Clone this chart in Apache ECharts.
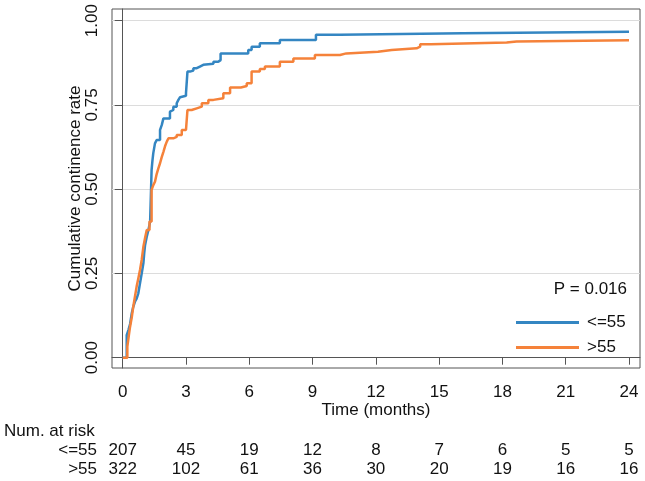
<!DOCTYPE html>
<html>
<head>
<meta charset="utf-8">
<script src="https://cdn.jsdelivr.net/npm/echarts@6.0.0/dist/echarts.min.js"></script>
<style>
  html, body { margin: 0; padding: 0; background: #fff; }
  #chart { width: 645px; height: 481px; }
</style>
</head>
<body>
<div id="chart"></div>
<script>
// tick labels
const timeTicks = [0, 3, 6, 9, 12, 15, 18, 21, 24]
const rateTicks = [0, 0.25, 0.5, 0.75, 1]
// number at risk, one per time tick
const riskLow = [207, 45, 19, 12, 8, 7, 6, 5, 5]
const riskHigh = [322, 102, 61, 36, 30, 20, 19, 16, 16]
const groupNames = ["<=55", ">55"]
// KM steps [months, rate]
const lowCurve = [
  [0, 0], [0.19, 0.067], [0.27, 0.082], [0.35, 0.1], [0.43, 0.132], [0.5, 0.151],
  [0.58, 0.166], [0.66, 0.175], [0.74, 0.191], [0.82, 0.221], [0.9, 0.25], [0.98, 0.28],
  [1.02, 0.31], [1.06, 0.334], [1.14, 0.359], [1.22, 0.379], [1.3, 0.404], [1.37, 0.557],
  [1.41, 0.585], [1.45, 0.607], [1.53, 0.636], [1.61, 0.646], [1.77, 0.676], [1.85, 0.69],
  [1.93, 0.71], [2.24, 0.73], [2.32, 0.735], [2.4, 0.745], [2.56, 0.755], [2.64, 0.765],
  [2.72, 0.773], [2.8, 0.777], [3.0, 0.785], [3.07, 0.849], [3.19, 0.852], [3.35, 0.859],
  [3.51, 0.864], [3.66, 0.869], [3.82, 0.872], [4.3, 0.878], [4.53, 0.883], [4.64, 0.903],
  [5.95, 0.913], [6.11, 0.923], [6.5, 0.933], [7.45, 0.943], [9.16, 0.958], [10.3, 0.963],
  [16.1, 0.967], [24, 0.967]
]
const highCurve = [
  [0, 0], [0.22, 0.033], [0.3, 0.07], [0.35, 0.092], [0.43, 0.12], [0.5, 0.151],
  [0.58, 0.181], [0.66, 0.211], [0.74, 0.235], [0.82, 0.26], [0.9, 0.29], [0.98, 0.329],
  [1.06, 0.355], [1.14, 0.379], [1.27, 0.404], [1.37, 0.498], [1.45, 0.512], [1.53, 0.522],
  [1.61, 0.545], [1.69, 0.562], [1.77, 0.577], [1.85, 0.595], [1.93, 0.611], [2.01, 0.628],
  [2.09, 0.641], [2.17, 0.651], [2.4, 0.655], [2.56, 0.661], [2.8, 0.676], [3.0, 0.681],
  [3.07, 0.735], [3.27, 0.74], [3.51, 0.745], [3.75, 0.755], [4.06, 0.765], [4.3, 0.77],
  [4.77, 0.785], [5.09, 0.802], [5.6, 0.806], [5.88, 0.814], [6.11, 0.849], [6.5, 0.857],
  [6.74, 0.864], [7.45, 0.878], [8.09, 0.888], [9.11, 0.898], [10.3, 0.903], [10.6, 0.908],
  [12.1, 0.913], [12.75, 0.918], [13.93, 0.923], [14.1, 0.93], [14.6, 0.935], [18.2, 0.938],
  [18.67, 0.942], [24, 0.942]
]
const pText = "P = 0.016"

const font = '"Liberation Sans", Arial, sans-serif'
const ink = "#111"
const frame = "#555"

// x axis padding like stata's plot region margin
const xMin = -0.507, xMax = 24.52
const yMin = -0.0306, yMax = 1.0347

function riskAxis(values, offset) {
  return {
    type: "value", min: xMin, max: xMax, gridIndex: 0, position: "bottom", offset: offset,
    axisLine: { show: false }, axisTick: { show: false }, splitLine: { show: false },
    axisLabel: {
      customValues: timeTicks, margin: 0, color: ink, fontSize: 17, fontFamily: font,
      formatter: (v) => String(values[Math.round(v / 3)])
    }
  }
}

let myChart = echarts.init(document.getElementById("chart"), null, { renderer: "canvas" })
myChart.setOption({
  animation: false,
  grid: { left: 112, right: 5, top: 9, bottom: 113, show: true, borderColor: frame, borderWidth: 1, outerBoundsMode: "none" },
  legend: {
    orient: "vertical", left: 511, top: 309, itemWidth: 63, itemHeight: 3, icon: "rect", itemGap: 8,
    selectedMode: false, data: groupNames,
    textStyle: { fontSize: 17, color: ink, fontFamily: font, padding: [0, 0, 0, 3] }
  },
  xAxis: [
    {
      type: "value", min: xMin, max: xMax,
      name: "Time (months)", nameLocation: "middle", nameGap: 34, nameMoveOverlap: false,
      nameTextStyle: { fontSize: 17, color: ink, fontFamily: font },
      axisLine: { show: true, lineStyle: { color: frame, width: 1 } },
      axisTick: { show: true, customValues: timeTicks, length: 7, lineStyle: { color: frame } },
      axisLabel: { customValues: timeTicks, margin: 15.5, color: ink, fontSize: 17, fontFamily: font },
      splitLine: { show: false }
    },
    riskAxis(riskLow, 73.5),
    riskAxis(riskHigh, 92.5)
  ],
  yAxis: {
    type: "value", min: yMin, max: yMax,
    name: "Cumulative continence rate", nameLocation: "middle", nameGap: 28.5, nameRotate: 90,
    nameMoveOverlap: false,
    nameTextStyle: { fontSize: 17, color: ink, fontFamily: font },
    axisLine: { show: true, lineStyle: { color: frame, width: 1 } },
    axisTick: { show: true, customValues: rateTicks, length: 8, lineStyle: { color: frame } },
    axisLabel: {
      customValues: rateTicks, rotate: 90, margin: 11, color: ink, fontSize: 17, fontFamily: font,
      formatter: (v) => v.toFixed(2)
    },
    splitLine: { show: true, lineStyle: { color: "#dcdcdc", width: 1 } }
  },
  series: [
    {
      name: groupNames[0], type: "line", step: "end", data: lowCurve,
      showSymbol: false, color: "#3486c2", lineStyle: { width: 2.5 }
    },
    {
      name: groupNames[1], type: "line", step: "end", data: highCurve,
      showSymbol: false, color: "#f5823a", lineStyle: { width: 2.5 }
    }
  ],
  graphic: [
    { type: "text", x: 627, y: 289, style: { text: pText, font: "17px " + font, fill: ink, align: "right", verticalAlign: "middle" } },
    { type: "text", x: 4, y: 431, style: { text: "Num. at risk", font: "17px " + font, fill: ink, align: "left", verticalAlign: "middle" } },
    { type: "text", x: 97, y: 450, style: { text: groupNames[0], font: "17px " + font, fill: ink, align: "right", verticalAlign: "middle" } },
    { type: "text", x: 97, y: 469, style: { text: groupNames[1], font: "17px " + font, fill: ink, align: "right", verticalAlign: "middle" } }
  ]
})
</script>
</body>
</html>
